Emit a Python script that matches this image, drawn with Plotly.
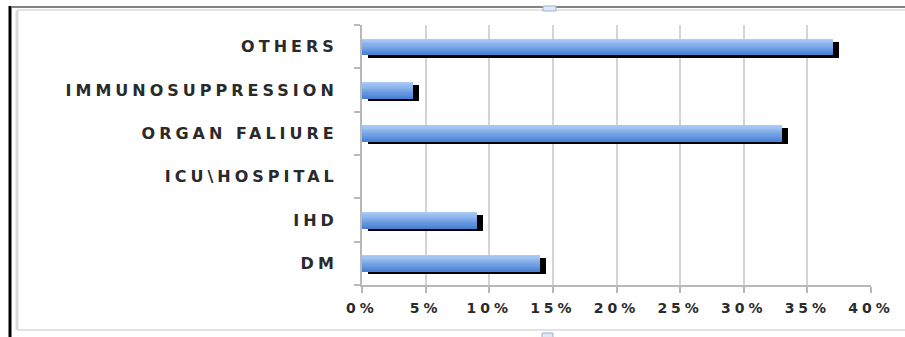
import plotly.graph_objects as go

# ---- data ----
categories = ["DM", "IHD", "ICU\\HOSPITAL", "ORGAN FALIURE", "IMMUNOSUPPRESSION", "OTHERS"]
values = [14, 9, 0, 33, 4, 37]          # percent
x_ticks = [0, 5, 10, 15, 20, 25, 30, 35, 40]
x_tick_labels = ["0%", "5%", "10%", "15%", "20%", "25%", "30%", "35%", "40%"]

# ---- layout geometry (pixels) ----
W, H = 905, 337
L, R, T, B = 362, 34, 25, 52
PW, PH = W - L - R, H - T - B

def px(x):
    return (x - L) / PW

def py(y):
    return 1 - (y - T) / PH

fig = go.Figure()

bar_w = 0.37
cat_px = PH / len(categories)
shadow_dy = 3 / cat_px
shadow_dx = 6 / (PW / 40)

# shadow
fig.add_trace(go.Bar(
    y=categories, x=values, orientation="h", base=shadow_dx,
    width=bar_w, offset=-bar_w / 2 - shadow_dy,
    marker=dict(color="#000000", line=dict(width=0)),
    hoverinfo="skip", showlegend=False))

# gradient body: light at top, darker toward bottom
top_c = (170, 203, 246)
bot_c = (74, 130, 214)
N = 14
for i in range(N):
    t = i / (N - 1)
    c = tuple(round(top_c[k] + (bot_c[k] - top_c[k]) * t) for k in range(3))
    h = bar_w * (N - i) / N
    fig.add_trace(go.Bar(
        y=categories, x=values, orientation="h",
        width=h, offset=-bar_w / 2,
        marker=dict(color="rgb(%d,%d,%d)" % c, line=dict(width=0)),
        hoverinfo="skip", showlegend=False))

font_fam = "DejaVu Sans, sans-serif"

fig.update_layout(
    width=W, height=H,
    margin=dict(l=L, r=R, t=T, b=B, pad=0),
    paper_bgcolor="white", plot_bgcolor="white",
    barmode="overlay", bargap=0,
    showlegend=False,
    xaxis=dict(
        range=[0, 40], tickvals=x_ticks, ticktext=x_tick_labels,
        showgrid=True, gridcolor="#d4d4d4", gridwidth=2,
        showline=True, linecolor="#b8b8b8", linewidth=2,
        ticks="outside", ticklen=6, tickcolor="#b8b8b8", tickwidth=2,
        tickfont=dict(family=font_fam, size=14, color="#2a2a2a", weight="bold"),
        ticklabelstandoff=3, zeroline=False, fixedrange=True),
    yaxis=dict(
        categoryorder="array", categoryarray=categories,
        range=[-0.5, len(categories) - 0.5],
        showgrid=False, showline=True, linecolor="#b8b8b8", linewidth=2,
        ticks="outside", ticklen=6, tickcolor="#b8b8b8", tickwidth=2,
        tickson="boundaries",
        tickfont=dict(family=font_fam, size=16, color="#2a2a2a", weight="bold"),
        ticklabelstandoff=19, zeroline=False, fixedrange=True),
)

shapes = []
# outer frame pieces
shapes.append(dict(type="line", xref="paper", yref="paper",
                   x0=px(12), x1=px(910), y0=py(7), y1=py(7),
                   line=dict(color="#5a5a5a", width=1.5), layer="above"))
shapes.append(dict(type="line", xref="paper", yref="paper",
                   x0=px(17), x1=px(910), y0=py(10), y1=py(10),
                   line=dict(color="#e4e4e4", width=2), layer="above"))
shapes.append(dict(type="line", xref="paper", yref="paper",
                   x0=px(10), x1=px(10), y0=py(6), y1=py(340),
                   line=dict(color="#000000", width=3), layer="above"))
shapes.append(dict(type="line", xref="paper", yref="paper",
                   x0=px(17), x1=px(17), y0=py(10), y1=py(330),
                   line=dict(color="#dcdcdc", width=3), layer="above"))
shapes.append(dict(type="line", xref="paper", yref="paper",
                   x0=px(17), x1=px(910), y0=py(330), y1=py(330),
                   line=dict(color="#e2e2e2", width=2), layer="above"))
# selection handles
shapes.append(dict(type="rect", xref="paper", yref="paper",
                   x0=px(543), x1=px(556), y0=py(11), y1=py(6),
                   fillcolor="#dfe8f3", line=dict(color="#9fb3cc", width=1), layer="above"))
shapes.append(dict(type="rect", xref="paper", yref="paper",
                   x0=px(542), x1=px(553), y0=py(340), y1=py(333),
                   fillcolor="#dfe8f3", line=dict(color="#9fb3cc", width=1), layer="above"))
fig.update_layout(shapes=shapes)

# the reference text is horizontally stretched: widen it with letter spacing
post_js = """
var s = document.createElement('style');
s.textContent = '.ytick text{letter-spacing:4px;} .xtick text{letter-spacing:4px;}';
document.head.appendChild(s);
"""

fig.write_html("out.html", post_script=post_js)
